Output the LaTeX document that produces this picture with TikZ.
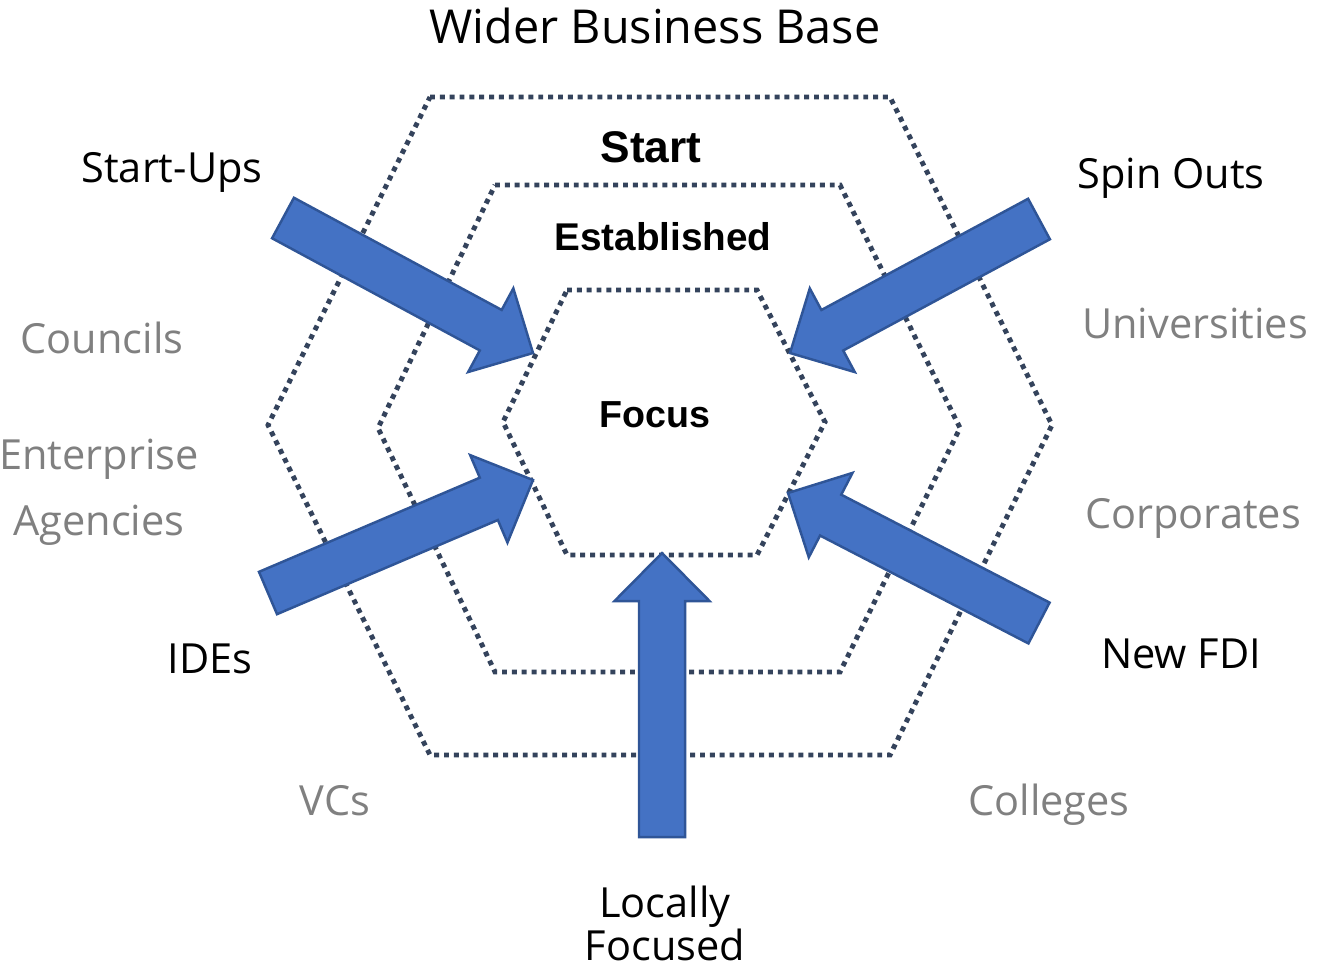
\documentclass[tikz,border=0pt]{standalone}
\usepackage{fontspec}
\setmainfont{Open Sans}
\newfontfamily\boldlabelfont{Liberation Sans}
\usetikzlibrary{calc}
\definecolor{arrowblue}{HTML}{4472C4}
\definecolor{arrowedge}{HTML}{2F5597}
\definecolor{hexdots}{HTML}{34435C}
\definecolor{softgrey}{HTML}{808080}
\begin{document}
\begin{tikzpicture}
[x=0.01cm,y=-0.01cm,
  hexdecorate/.style={draw=hexdots,line width=1.4pt,dash pattern=on 1.4pt off 1.4pt},%
  labeldecorate/.style={anchor=base,inner sep=0pt,font=\fontsize{11.8}{14}\selectfont},%
  greydecorate/.style={labeldecorate,text=softgrey},%
  stagedecorate/.style={anchor=base,inner sep=0pt,font=\boldlabelfont\bfseries\fontsize{11}{13}\selectfont},%
  arrowdecorate/.style={draw=arrowedge,fill=arrowblue,line width=0.7pt,line join=miter,
    to path={let \p1=($(\tikztotarget)-(\tikztostart)$), \n1={atan2(\y1,\x1)} in
      ($(\tikztostart)+(\n1+90:0.23cm)$)
      -- ($(\tikztotarget)+(\n1+180:0.48cm)+(\n1+90:0.23cm)$)
      -- ($(\tikztotarget)+(\n1+180:0.48cm)+(\n1+90:0.475cm)$)
      -- (\tikztotarget)
      -- ($(\tikztotarget)+(\n1+180:0.48cm)+(\n1-90:0.475cm)$)
      -- ($(\tikztotarget)+(\n1+180:0.48cm)+(\n1-90:0.23cm)$)
      -- ($(\tikztostart)+(\n1-90:0.23cm)$) -- cycle}}]
\useasboundingbox (0,0) rectangle (1319,972);
%% hexagons: left x, top left x, top right x, right x, top y, mid y, bottom y
\foreach \xl/\xa/\xb/\xr/\yt/\ym/\yb in {268/430/890/1052/97/425/755,
  378/495/840/960/185/428/672, 503/567/757/825/290/422/555} {
  \draw[hexdecorate] (\xa,\yt) -- (\xb,\yt) -- (\xr,\ym) -- (\xb,\yb)
    -- (\xa,\yb) -- (\xl,\ym) -- cycle;
}
%% arrow ends
\foreach \nodename/\x/\y/\tx/\ty in {startups/283/218/533/353,
  spinouts/1039/219/790/353, ides/268/593/533/480,
  newfdi/1039/623/788/493, locally/662/837/662/553} {
  \coordinate (\nodename-tail) at (\x,\y);
  \coordinate (\nodename-tip) at (\tx,\ty);
}
%% arrows
\draw[arrowdecorate] (startups-tail) to (startups-tip);
\draw[arrowdecorate] (spinouts-tail) to (spinouts-tip);
\draw[arrowdecorate] (ides-tail) to (ides-tip);
\draw[arrowdecorate] (newfdi-tail) to (newfdi-tip);
\draw[arrowdecorate] (locally-tail) to (locally-tip);
%% stage names
\node[labeldecorate,font=\fontsize{13.3}{16}\selectfont] (wider) at (655,43) {Wider Business Base};
\node[stagedecorate,font=\boldlabelfont\bfseries\fontsize{12.6}{15}\selectfont] (start) at (651,162) {Start};
\node[stagedecorate] (established) at (663,250) {Established};
\node[stagedecorate,font=\boldlabelfont\bfseries\fontsize{10.7}{13}\selectfont] (focus) at (655,427) {Focus};
%% sources
\foreach \nodename/\x/\y/\txt in {startupslabel/172/182/Start-Ups,
  spinoutslabel/1171/188/Spin Outs, ideslabel/210/673/IDEs,
  newfdilabel/1181/668/New FDI} {
  \node[labeldecorate] (\nodename) at (\x,\y) {\txt};
}
\node[labeldecorate,align=center,font=\fontsize{11.8}{12}\selectfont] (locallylabel) at (665,960) {Locally\\Focused};
%% partners
\foreach \nodename/\x/\y/\txt in {councils/102/353/Councils,
  universities/1195/338/Universities, corporates/1193/528/Corporates,
  vcs/335/815/VCs, colleges/1049/815/Colleges} {
  \node[greydecorate] (\nodename) at (\x,\y) {\txt};
}
\node[greydecorate,align=center,font=\fontsize{11.8}{18.5}\selectfont] (agencies) at (99,535) {Enterprise\\Agencies};
\end{tikzpicture}
\end{document}
